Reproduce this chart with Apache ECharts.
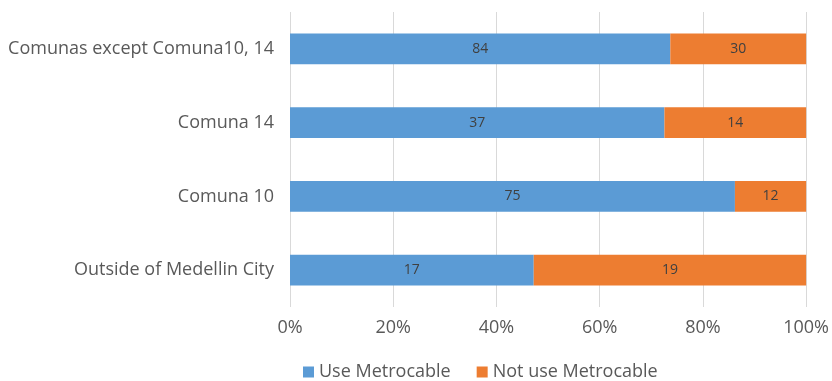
<!DOCTYPE html>
<html><head><meta charset="utf-8">
<script src="https://cdn.jsdelivr.net/npm/echarts@6/dist/echarts.min.js"></script>
<style>html,body{margin:0;padding:0;background:#fff}#c{width:832px;height:381px}</style>
</head><body><div id="c"></div>
<script>
const categories = ["Outside of Medellin City", "Comuna 10", "Comuna 14", "Comunas except Comuna10, 14"];
const useMetrocable = [17, 75, 37, 84];
const notUseMetrocable = [19, 12, 14, 30];
const xTicks = [0, 20, 40, 60, 80, 100];

const totals = useMetrocable.map((v, i) => v + notUseMetrocable[i]);
const pct = arr => arr.map((v, i) => ({ value: v / totals[i] * 100, raw: v }));

const font = "'Open Sans', 'Liberation Sans', sans-serif";
const chart = echarts.init(document.getElementById('c'));
chart.setOption({
  animation: false,
  textStyle: { fontFamily: font },
  grid: { left: 290, right: 25, top: 12, bottom: 74, containLabel: false },
  xAxis: {
    type: 'value', min: xTicks[0], max: xTicks[xTicks.length - 1], interval: xTicks[1] - xTicks[0],
    axisLabel: { formatter: '{value}%', color: '#595959', fontSize: 18, margin: 12, fontFamily: font },
    axisLine: { show: false }, axisTick: { show: false },
    splitLine: { lineStyle: { color: '#d9d9d9', width: 1 } }
  },
  yAxis: {
    type: 'category', data: categories,
    axisLabel: { color: '#595959', fontSize: 18, margin: 16, fontFamily: font },
    axisLine: { show: false }, axisTick: { show: false }
  },
  legend: {
    left: 298, top: 358, itemWidth: 11, itemHeight: 11, itemGap: 26,
    icon: 'rect',
    textStyle: { color: '#595959', fontSize: 18, fontFamily: font },
    data: ['Use Metrocable', 'Not use Metrocable']
  },
  series: [
    { name: 'Use Metrocable', type: 'bar', stack: 's', barWidth: '42%',
      itemStyle: { color: '#5B9BD5' }, data: pct(useMetrocable),
      label: { show: true, position: 'inside', color: '#404040', fontSize: 14, fontFamily: font,
        formatter: p => p.data.raw } },
    { name: 'Not use Metrocable', type: 'bar', stack: 's', barWidth: '42%',
      itemStyle: { color: '#ED7D31' }, data: pct(notUseMetrocable),
      label: { show: true, position: 'inside', color: '#404040', fontSize: 14, fontFamily: font,
        formatter: p => p.data.raw } }
  ]
});
</script></body></html>
